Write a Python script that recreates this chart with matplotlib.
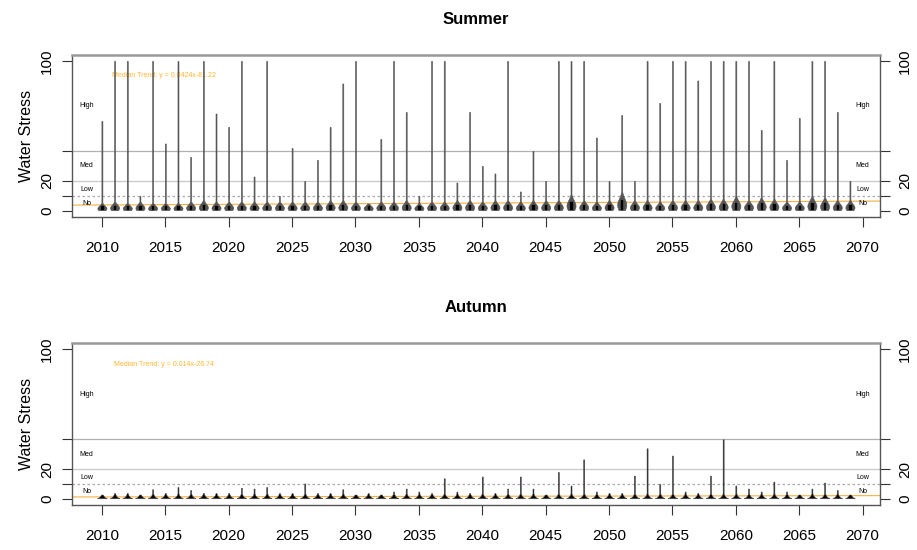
import numpy as np
import matplotlib.pyplot as plt

plt.rcParams['font.family'] = ['Liberation Sans', 'DejaVu Sans']

# data
years = np.arange(2010, 2070)

summer_max = [60, 100, 100, 10, 100, 45, 100, 36, 100, 65,
              56, 100, 23, 100, 10, 42, 20, 34, 56, 85,
              100, 5, 48, 100, 66, 10, 100, 100, 19, 66,
              30, 25, 100, 13, 40, 20, 100, 100, 100, 49,
              20, 64, 20, 100, 72, 100, 100, 87, 100, 100,
              100, 100, 54, 100, 34, 62, 100, 100, 66, 20]
summer_body = [6, 7, 6, 7, 6, 6, 6, 7, 8, 7,
               7, 7, 7, 7, 7, 7, 7, 7, 8, 8,
               7, 6, 7, 7, 8, 6, 7, 7, 8, 8,
               7, 8, 8, 7, 8, 8, 8, 12, 8, 7,
               8, 14, 8, 8, 7, 8, 8, 8, 9, 9,
               11, 8, 10, 9, 7, 7, 11, 10, 8, 8]

autumn_max = [3, 4, 4, 3, 6.5, 4, 8, 6, 4, 4,
              4, 7.5, 7, 8, 4, 4, 10.4, 4, 4, 6.5,
              3, 4, 3, 5, 7, 5, 4, 13.8, 5, 4,
              15, 4, 7, 15, 7, 3, 18, 9, 26.4, 5,
              4, 4, 15.6, 33.8, 10, 29, 5, 4, 15.6, 39.8,
              9, 7, 5, 11.6, 5, 3, 7, 11, 6, 3]
autumn_body = [3] * 60

trend = {'Summer': (0.0424, -81.22), 'Autumn': (0.014, -26.74)}
trend_text = {'Summer': 'Median Trend: y = 0.0424x-81.22',
              'Autumn': 'Median Trend: y = 0.014x-26.74'}

level_names = ['High', 'Med', 'Low', 'No']
level_pos = [70, 30, 14.5, 5]
level_lines = [40, 20, 10]

fig = plt.figure(figsize=(9.17, 5.5), dpi=100)
ax1 = fig.add_axes([0.0785, 0.6055, 0.881, 0.2945])
ax2 = fig.add_axes([0.0785, 0.0818, 0.881, 0.2945])


def violin(ax, x, top, body, kind):
    v = np.linspace(0.5, top, 400)
    if kind == 'Summer':
        hw = 0.36 * np.exp(-0.5 * ((v - body * 0.3) / (body * 0.3)) ** 2)
        fc = '#555555'
    else:
        hw = 0.38 * np.exp(-(v - 0.5) / (body * 0.5))
        fc = 'black'
    hw = np.maximum(hw, 0.04)
    ax.fill_betweenx(v, x - hw, x + hw, facecolor=fc, edgecolor='#555555',
                     lw=0.4, zorder=4)
    if kind == 'Summer':
        ax.fill_between([x - 0.05, x + 0.05], 1.0, body * 0.5,
                        color='black', zorder=5)


for ax, name, mx, bd in [(ax1, 'Summer', summer_max, summer_body),
                         (ax2, 'Autumn', autumn_max, autumn_body)]:
    ax.set_xlim(2007.64, 2071.36)
    ax.set_ylim(-4, 104)
    for y, c, ls in zip(level_lines, ['#b0b0b0', '#c8c8c8', '#aaaaaa'],
                        ['-', '-', (0, (2, 2))]):
        ax.axhline(y, color=c, lw=0.9, ls=ls, zorder=1)
    for yr, m, b in zip(years, mx, bd):
        violin(ax, yr, m, b, name)
    k, c0 = trend[name]
    xs = np.array([2007.64, 2071.36])
    ax.plot(xs, k * xs + c0, color='#f5b041', lw=0.8, zorder=2)
    ax.text(2014.9, 90, trend_text[name], color='orange', fontsize=5,
            ha='center', va='center', alpha=0.8)
    for nm, p in zip(level_names, level_pos):
        ax.text(2008.8, p, nm, fontsize=5, ha='center', va='center')
        ax.text(2070.0, p, nm, fontsize=5, ha='center', va='center')
    ax.set_title(name, fontsize=12, fontweight='bold', pad=22)
    ax.set_ylabel('Water Stress', fontsize=11.5, labelpad=4)
    ax.set_xticks(np.arange(2010, 2071, 5))
    ax.set_xticklabels([str(t) for t in range(2010, 2071, 5)], fontsize=11)
    ax.set_yticks([0, 10, 20, 40, 100])
    ax.set_yticklabels(['0', '', '20', '', '100'], fontsize=11,
                       rotation=90, va='center')
    ax.tick_params(axis='x', length=7, pad=10, color='#333333')
    ax.tick_params(axis='y', length=7, pad=6, color='#333333',
                   right=True, labelright=True)
    for lab in ax.get_yticklabels(which='both'):
        lab.set_rotation(90)
    for s in ax.spines.values():
        s.set_color('#555555')
        s.set_linewidth(1.0)
    ax.spines['top'].set_color('#999999')
    ax.spines['top'].set_linewidth(1.8)

fig.savefig('out.png', dpi=100)
